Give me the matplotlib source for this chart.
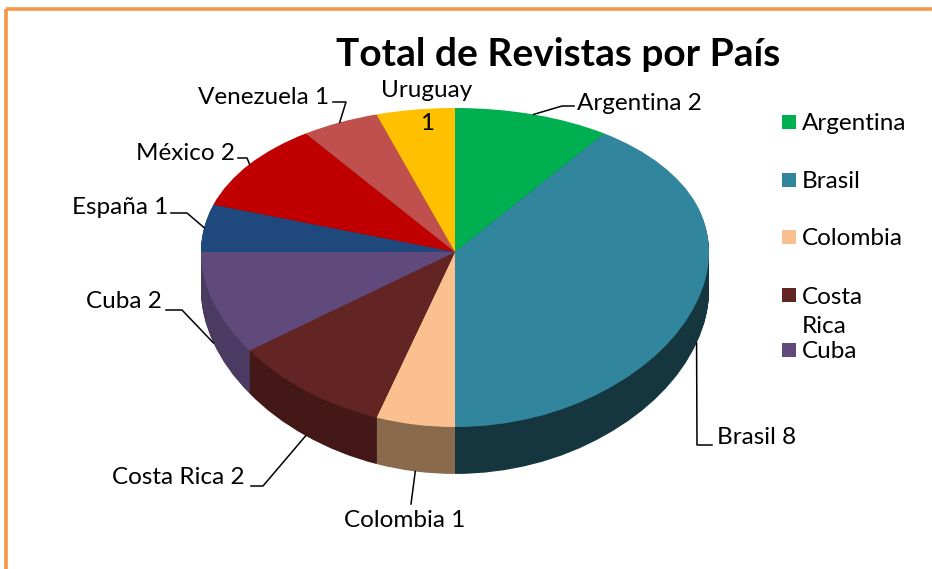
import numpy as np
import matplotlib
matplotlib.use("Agg")
import matplotlib.pyplot as plt
import matplotlib.transforms as mtransforms
from matplotlib.patches import Rectangle
from matplotlib.lines import Line2D

# data
paises = ["Argentina", "Brasil", "Colombia", "Costa Rica", "Cuba",
          "España", "México", "Venezuela", "Uruguay"]
revistas = [2, 8, 1, 2, 2, 1, 2, 1, 1]
titulo = "Total de Revistas por País"

colores = ["#00B050", "#31859C", "#FAC090", "#632523", "#604A7B",
           "#1F497D", "#C00000", "#C0504D", "#FFC000"]
lados = ["#007A38", "#15363F", "#8A6A4D", "#431816", "#4B3A62",
         "#173760", "#8A0000", "#8E3A38", "#B88A00"]

W, H = 932, 569
plt.rcParams['font.family'] = ['Lato', 'DejaVu Sans']
fig = plt.figure(figsize=(W / 100, H / 100), dpi=100)
ax = fig.add_axes([0, 0, 1, 1])
ax.set_axis_off()

# perspective on y: pixel row = (A*y + B) / (C*y + 1)
A, B, C = -133.5, 252.0, 0.0972
def fwd(y):
    y = np.asarray(y, dtype=float)
    return -(A * y + B) / (C * y + 1)
def inv(s):
    p = -np.asarray(s, dtype=float)
    return (B - p) / (p * C - A)

ax.set_yscale('function', functions=(fwd, inv))
cx, rx = 455.0, 254.0
depth = 0.236
nlay = 48

# side walls (stacked copies of the pie, shifted down)
for k in range(nlay, 0, -1):
    ax.pie(revistas, colors=lados, startangle=90, counterclock=False,
           center=(0, -depth * k / nlay), radius=1,
           wedgeprops=dict(linewidth=0), frame=True)
wedges, _ = ax.pie(revistas, colors=colores, startangle=90, counterclock=False,
                   center=(0, 0), radius=1, wedgeprops=dict(linewidth=0), frame=True)

ax.set_aspect('auto')
ax.set_xlim(-cx / rx, (W - cx) / rx)
ax.set_ylim(inv(-H), inv(0))
ax.set_axis_off()

# pixel coordinates (origin top-left)
tpx = mtransforms.Affine2D().scale(1 / W, -1 / H).translate(0, 1) + fig.transFigure
fs = 17.5

def anchor(w):
    m = np.deg2rad((w.theta1 + w.theta2) / 2)
    x, y = np.cos(m), np.sin(m)
    if y < 0:
        y -= depth
    p = ax.transData.transform((x, y))
    return tpx.inverted().transform(p)

# label text position, (elbow, end) of leader line, alignment
etiquetas = {
    "Argentina": ((577, 103), [(562, 106), (574, 106)], 'left'),
    "Brasil": ((717, 438), [(697, 445), (712, 445)], 'left'),
    "Colombia": ((405, 521), [(411, 504)], 'center'),
    "Costa Rica": ((245, 478), [(263, 486), (251, 486)], 'right'),
    "Cuba": ((162, 302), [(182, 310), (166, 310)], 'right'),
    "España": ((168, 208), [(187, 213), (171, 213)], 'right'),
    "México": ((235, 153), [(247, 158), (238, 158)], 'right'),
    "Venezuela": ((329, 97), [(346, 102), (333, 102)], 'right'),
}
for w, pais, v in zip(wedges, paises, revistas):
    if pais in etiquetas:
        (tx, ty), pts, ha = etiquetas[pais]
        a = anchor(w)
        xs = [a[0]] + [p[0] for p in pts]
        ys = [a[1]] + [p[1] for p in pts]
        fig.add_artist(Line2D(xs, ys, transform=tpx, color='black', lw=1.1))
        fig.text(tx, ty, f"{pais} {v}", transform=tpx, ha=ha, va='center', fontsize=fs)
    else:
        fig.text(427, 107, f"{pais}\n{v}", transform=tpx, ha='center', va='center',
                 fontsize=fs, linespacing=1.75)

fig.text(558, 55, titulo, transform=tpx, ha='center', va='center',
         fontsize=28, fontweight='bold')

# legend (only the first five entries fit)
ley_y = [122, 180, 237, 295, 350]
for pais, col, y in zip(paises[:5], colores[:5], ley_y):
    fig.add_artist(Rectangle((782, y - 7), 14, 14, transform=tpx, facecolor=col,
                             edgecolor='none'))
    txt = pais.replace(" ", "\n")
    extra = 30 * txt.count("\n")
    fig.text(802, y + 8 + extra, txt, transform=tpx, ha='left',
             va='baseline', fontsize=fs, linespacing=1.45)

# orange frame
fig.add_artist(Rectangle((5.5, 9), W + 20, H + 20, transform=tpx, facecolor='none',
                         edgecolor='#F79646', lw=2.6))

fig.savefig("out.png", dpi=100)
